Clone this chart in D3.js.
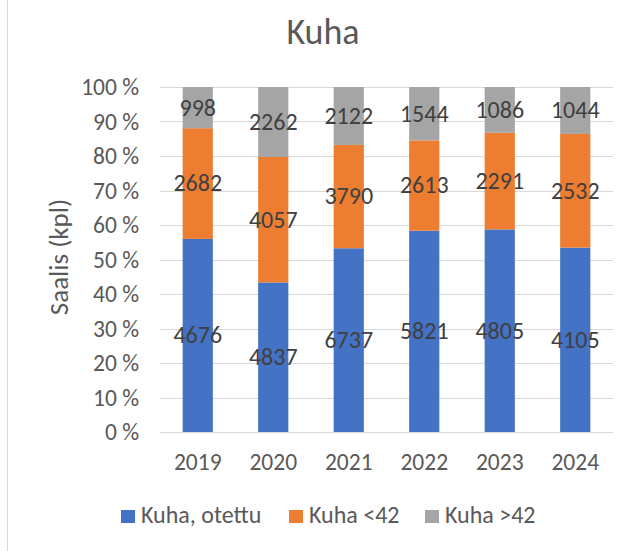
<!DOCTYPE html>
<html lang="fi">
<head>
<meta charset="UTF-8">
<title>Kuha</title>
<script src="https://cdn.jsdelivr.net/npm/d3@7"></script>
<style>
  body { margin: 0; background: #fff; }
  svg text { font-family: Carlito, Calibri, Lato, "Liberation Sans", sans-serif; }
</style>
</head>
<body>
<div id="chart"></div>
<script>
// data
const years = ["2019", "2020", "2021", "2022", "2023", "2024"];
const seriesNames = ["Kuha, otettu", "Kuha <42", "Kuha >42"];
const otettu = [4676, 4837, 6737, 5821, 4805, 4105];
const alle42 = [2682, 4057, 3790, 2613, 2291, 2532];
const yli42 = [998, 2262, 2122, 1544, 1086, 1044];
const yTicks = [0, 0.1, 0.2, 0.3, 0.4, 0.5, 0.6, 0.7, 0.8, 0.9, 1];

const colors = ["#4472C4", "#ED7D31", "#A5A5A5"];

const width = 634, height = 551;
const margin = {top: 87, right: 21, bottom: 119, left: 160};

const svg = d3.select("#chart").append("svg")
    .attr("width", width)
    .attr("height", height);

// left frame edge
svg.append("line")
    .attr("x1", 7.5).attr("x2", 7.5)
    .attr("y1", 0).attr("y2", height)
    .attr("stroke", "#d9d9d9");

const rows = years.map((y, i) => ({year: y, v: [otettu[i], alle42[i], yli42[i]]}));

const x = d3.scaleBand()
    .domain(years)
    .range([margin.left, width - margin.right])
    .paddingInner(0.6)
    .paddingOuter(0.3);

const y = d3.scaleLinear()
    .domain([0, 1])
    .range([height - margin.bottom, margin.top]);

// gridlines
svg.append("g")
    .selectAll("line")
    .data(yTicks)
    .join("line")
    .attr("x1", margin.left)
    .attr("x2", width - margin.right)
    .attr("y1", d => Math.round(y(d)) + 0.5)
    .attr("y2", d => Math.round(y(d)) + 0.5)
    .attr("stroke", "#d9d9d9")
    .attr("stroke-width", 1);

// y axis labels
const yAxis = d3.axisLeft(y).tickValues(yTicks)
    .tickFormat(d => Math.round(d * 100) + " %")
    .tickSize(0).tickPadding(21);
const gy = svg.append("g")
    .attr("transform", `translate(${margin.left},0)`)
    .call(yAxis);
gy.select(".domain").remove();
gy.selectAll("text").attr("fill", "#595959").style("font-size", "23.5px");

// x axis labels
const xAxis = d3.axisBottom(x).tickSize(0).tickPadding(0);
const gx = svg.append("g")
    .attr("transform", `translate(0,${height - margin.bottom})`)
    .call(xAxis);
gx.select(".domain").remove();
gx.selectAll("text")
    .attr("y", 38).attr("dy", null)
    .attr("fill", "#595959").style("font-size", "23.5px");

// stacked bars
rows.forEach(r => {
    const total = d3.sum(r.v);
    let acc = 0;
    r.v.forEach((val, k) => {
        const y0 = acc / total;
        acc += val;
        const y1 = acc / total;
        svg.append("rect")
            .attr("x", x(r.year))
            .attr("width", x.bandwidth())
            .attr("y", y(y1))
            .attr("height", y(y0) - y(y1))
            .attr("fill", colors[k]);
        svg.append("text")
            .attr("x", x(r.year) + x.bandwidth() / 2)
            .attr("y", y((y0 + y1) / 2))
            .attr("dy", "0.33em")
            .attr("text-anchor", "middle")
            .attr("fill", "#404040")
            .style("font-size", "24px")
            .text(val);
    });
});

// title
svg.append("text")
    .attr("x", 323)
    .attr("y", 44)
    .attr("text-anchor", "middle")
    .attr("fill", "#595959")
    .style("font-size", "36px")
    .text("Kuha");

// y axis title
svg.append("text")
    .attr("transform", `translate(68,257) rotate(-90)`)
    .attr("text-anchor", "middle")
    .attr("fill", "#595959")
    .style("font-size", "27px")
    .text("Saalis (kpl)");

// legend
const legendX = [121, 289, 425];
const lg = svg.append("g");
seriesNames.forEach((name, k) => {
    lg.append("rect")
        .attr("x", legendX[k]).attr("y", 510)
        .attr("width", 14).attr("height", 13)
        .attr("fill", colors[k]);
    lg.append("text")
        .attr("x", legendX[k] + 20).attr("y", 523)
        .attr("fill", "#595959")
        .style("font-size", "24px")
        .text(name);
});
</script>
</body>
</html>
